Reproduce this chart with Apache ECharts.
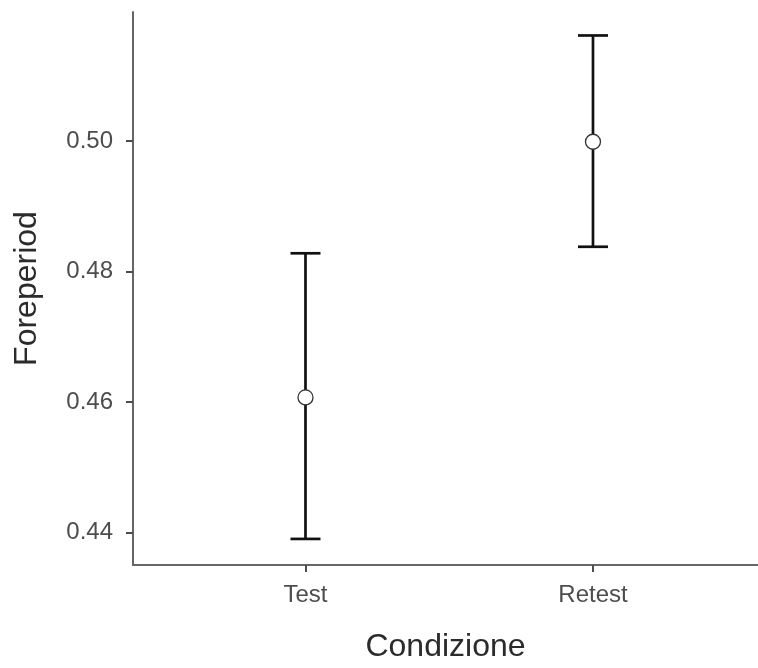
<!DOCTYPE html>
<html>
<head>
<meta charset="utf-8">
<script src="https://cdn.jsdelivr.net/npm/echarts@6/dist/echarts.min.js"></script>
<style>
  html, body { margin: 0; padding: 0; background: #fff; }
  #chart { width: 758px; height: 668px; }
</style>
</head>
<body>
<div id="chart"></div>
<script>
// Foreperiod by condition: mean with interval bars
const conditions = ['Test', 'Retest'];
const means = [0.4607, 0.4999];
const lower = [0.4390, 0.4838];
const upper = [0.4828, 0.5162];
const yTicks = [0.44, 0.46, 0.48, 0.50];
const xPositions = [1, 2];

const textFont = 'Liberation Sans, Arial, sans-serif';

const barData = conditions.map((c, i) => [xPositions[i], lower[i], upper[i]]);
const pointData = conditions.map((c, i) => [xPositions[i], means[i]]);

const chart = echarts.init(document.getElementById('chart'), null, { renderer: 'canvas' });

chart.setOption({
  animation: false,
  backgroundColor: '#ffffff',
  grid: { left: 133, right: 0, top: 12, bottom: 97 },
  xAxis: {
    type: 'value',
    min: 0.4,
    max: 2.574,
    name: 'Condizione',
    nameLocation: 'middle',
    nameGap: 66,
    nameTextStyle: { fontFamily: textFont, fontSize: 32, color: '#2b2b2b' },
    splitLine: { show: false },
    axisLine: { show: true, lineStyle: { color: '#666666', width: 2 } },
    axisTick: { show: true, customValues: xPositions, length: 7, lineStyle: { color: '#4d4d4d', width: 2 } },
    axisLabel: {
      customValues: xPositions,
      margin: 18,
      fontFamily: textFont,
      fontSize: 24,
      color: '#4d4d4d',
      formatter: v => conditions[Math.round(v) - 1] || ''
    }
  },
  yAxis: {
    type: 'value',
    min: 0.435,
    max: 0.5198,
    name: 'Foreperiod',
    nameLocation: 'middle',
    nameGap: 90,
    nameRotate: 90,
    nameTextStyle: { fontFamily: textFont, fontSize: 32, color: '#2b2b2b' },
    splitLine: { show: false },
    axisLine: { show: true, lineStyle: { color: '#666666', width: 2 } },
    axisTick: { show: true, customValues: yTicks, length: 7, lineStyle: { color: '#4d4d4d', width: 2 } },
    axisLabel: {
      customValues: yTicks,
      margin: 20,
      fontFamily: textFont,
      fontSize: 24,
      color: '#4d4d4d',
      formatter: v => v.toFixed(2)
    }
  },
  series: [
    {
      type: 'custom',
      data: barData,
      encode: { x: 0, y: [1, 2] },
      z: 2,
      renderItem: function (params, api) {
        const x = api.value(0);
        const lo = api.coord([x, api.value(1)]);
        const hi = api.coord([x, api.value(2)]);
        const half = 15;
        const style = { stroke: '#111111', lineWidth: 2.7, fill: null };
        return {
          type: 'group',
          children: [
            { type: 'line', shape: { x1: lo[0], y1: lo[1], x2: hi[0], y2: hi[1] }, style: style },
            { type: 'line', shape: { x1: hi[0] - half, y1: hi[1], x2: hi[0] + half, y2: hi[1] }, style: style },
            { type: 'line', shape: { x1: lo[0] - half, y1: lo[1], x2: lo[0] + half, y2: lo[1] }, style: style }
          ]
        };
      }
    },
    {
      type: 'scatter',
      data: pointData,
      z: 3,
      symbol: 'circle',
      symbolSize: 15,
      itemStyle: { color: '#ffffff', borderColor: '#333333', borderWidth: 1.3, opacity: 1 }
    }
  ]
});
</script>
</body>
</html>
